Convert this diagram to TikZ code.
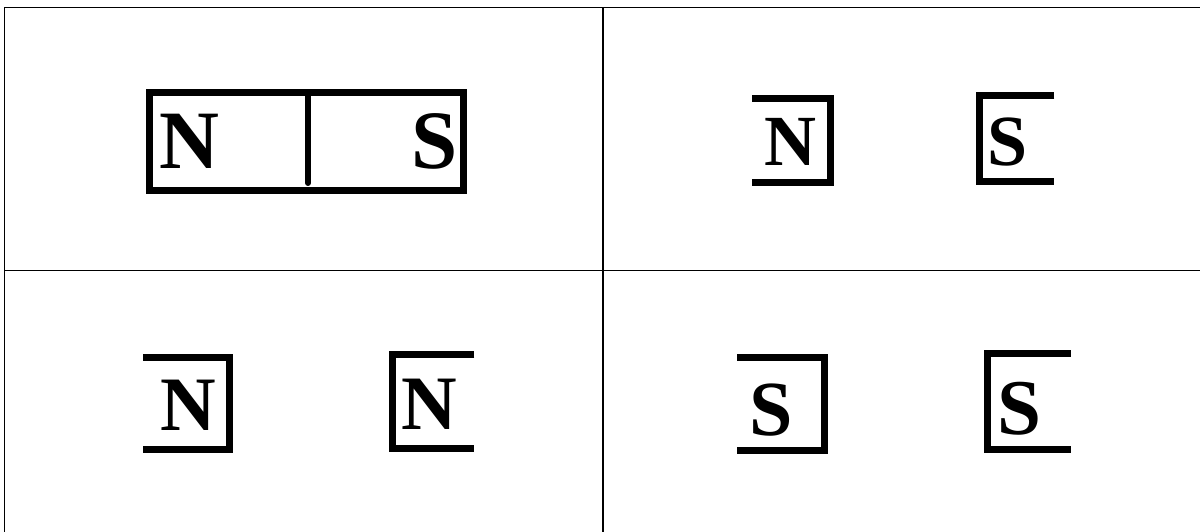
\documentclass[tikz,border=0pt]{standalone}
\usepackage{fontspec}
\newfontfamily\polefont{Liberation Serif}[UprightFont=*-Bold]
\tikzset{
  grid/.style={line width=1.5pt, black},
  magnet/.style={line width=7pt, black, line cap=butt, line join=miter},
  pole/.style={inner sep=0pt, anchor=base}
}
\newcommand{\psz}[1]{\polefont\fontsize{#1}{#1}\selectfont}
\begin{document}
\begin{tikzpicture}[x=1pt, y=-1pt]
\useasboundingbox (0,0) rectangle (1200,532);
% table lines
\draw[grid] (4.5,532) -- (4.5,7.5) -- (1200,7.5);
\draw[grid] (4.5,270.5) -- (1200,270.5);
\draw[line width=1.2pt] (603,7.5) -- (603,532);
% top-left bar magnet
\draw[magnet] (149,93) rectangle (463,190.5);
\draw[line width=6pt, line cap=round] (308,93) -- (308,183);
\node[pole, font=\psz{83}] (n1) at (189,168) {N};
\node[pole, font=\psz{83}] (s1) at (435,169) {S};
% top-right
\draw[magnet] (752,98.3) -- (830.7,98.3) -- (830.7,182.3) -- (752,182.3);
\node[pole, font=\psz{72}] (n2) at (790.5,166) {N};
\draw[magnet] (1054.3,95.7) -- (979,95.7) -- (979,181.7) -- (1054.3,181.7);
\node[pole, font=\psz{72}] (s2) at (1008,166) {S};
% bottom-left
\draw[magnet] (143.3,357) -- (229.7,357) -- (229.7,449.7) -- (143.3,449.7);
\node[pole, font=\psz{77}] (n3) at (188,430) {N};
\draw[magnet] (474.3,354.5) -- (392,354.5) -- (392,448.8) -- (474.3,448.8);
\node[pole, font=\psz{77}] (n4) at (429,429.3) {N};
% bottom-right
\draw[magnet] (737.3,357) -- (824.5,357) -- (824.5,450.3) -- (737.3,450.3);
\node[pole, font=\psz{78}] (s3) at (771,435.5) {S};
\draw[magnet] (1070.7,353.7) -- (987,353.7) -- (987,449.7) -- (1070.7,449.7);
\node[pole, font=\psz{79}] (s4) at (1019,434) {S};
\end{tikzpicture}
\end{document}
